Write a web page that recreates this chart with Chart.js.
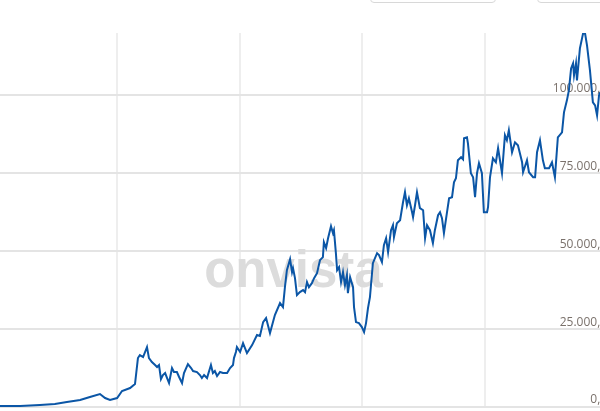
<!DOCTYPE html>
<html>
<head>
<meta charset="utf-8">
<script src="https://cdn.jsdelivr.net/npm/chart.js@4/dist/chart.umd.min.js"></script>
<style>
  body { margin: 0; background: #fff; overflow: hidden; }
  #wrap { position: relative; width: 600px; height: 411px; }
  .btn { position: absolute; top: -27px; height: 28px; border: 1px solid #d8d8d8; border-radius: 4px; background: #fff; }
</style>
</head>
<body>
<div id="wrap">
  <div class="btn" style="left:370px;width:124px"></div>
  <div class="btn" style="left:537px;width:90px"></div>
  <canvas id="kurs"></canvas>
</div>
<script>
// decimal years and closing prices
const dates = [
  2000.22, 2001.04, 2001.85, 2002.46, 2002.95, 2003.49, 2003.89, 2004.30, 2004.51, 2004.71,
  2005.00, 2005.20, 2005.53, 2005.73, 2005.85, 2005.93, 2006.06, 2006.22, 2006.30, 2006.42,
  2006.55, 2006.63, 2006.71, 2006.79, 2006.87, 2006.96, 2007.04, 2007.12, 2007.24, 2007.32,
  2007.44, 2007.53, 2007.65, 2007.73, 2007.89, 2008.02, 2008.10, 2008.26, 2008.38, 2008.46,
  2008.55, 2008.67, 2008.83, 2008.91, 2008.99, 2009.08, 2009.20, 2009.32, 2009.49, 2009.61,
  2009.73, 2009.77, 2009.85, 2009.89, 2010.02, 2010.14, 2010.30, 2010.51, 2010.71, 2010.83,
  2010.96, 2011.08, 2011.24, 2011.44, 2011.65, 2011.77, 2011.85, 2011.93, 2012.06, 2012.14,
  2012.18, 2012.26, 2012.34, 2012.46, 2012.59, 2012.67, 2012.75, 2012.83, 2012.95, 2013.04,
  2013.16, 2013.28, 2013.40, 2013.44, 2013.53, 2013.61, 2013.73, 2013.81, 2013.85, 2013.93,
  2013.98, 2014.06, 2014.14, 2014.22, 2014.30, 2014.38, 2014.42, 2014.51, 2014.63, 2014.67,
  2014.75, 2014.87, 2014.99, 2015.08, 2015.16, 2015.24, 2015.32, 2015.44, 2015.61, 2015.69,
  2015.81, 2015.89, 2015.98, 2016.06, 2016.18, 2016.26, 2016.30, 2016.42, 2016.55, 2016.67,
  2016.75, 2016.83, 2016.91, 2017.04, 2017.08, 2017.16, 2017.24, 2017.36, 2017.49, 2017.57,
  2017.65, 2017.77, 2017.89, 2017.97, 2018.10, 2018.18, 2018.26, 2018.34, 2018.46, 2018.55,
  2018.67, 2018.75, 2018.83, 2018.91, 2019.04, 2019.12, 2019.16, 2019.28, 2019.32, 2019.44,
  2019.53, 2019.61, 2019.69, 2019.77, 2019.89, 2019.97, 2020.10, 2020.14, 2020.22, 2020.34,
  2020.46, 2020.55, 2020.71, 2020.83, 2020.91, 2020.99, 2021.12, 2021.24, 2021.36, 2021.53,
  2021.57, 2021.73, 2021.81, 2021.98, 2022.06, 2022.14, 2022.26, 2022.38, 2022.46, 2022.63,
  2022.75, 2022.87, 2022.99, 2023.16, 2023.24, 2023.36, 2023.44, 2023.53, 2023.61, 2023.65,
  2023.73, 2023.77, 2023.89, 2024.02, 2024.10, 2024.18, 2024.30, 2024.42, 2024.51, 2024.59,
  2024.67, 2024.71
];
const prices = [
  320, 320, 640, 960, 1600, 2240, 3200, 4170, 2880, 2240,
  2880, 5130, 6090, 7370, 15700, 16670, 16030, 19230, 15700, 14420,
  13460, 12820, 13460, 8970, 10260, 10900, 9300, 7690, 12500, 11220,
  11220, 9620, 7690, 10900, 13780, 12500, 11540, 11220, 10260, 9300,
  10260, 9300, 13460, 10900, 11540, 9940, 11220, 10900, 10900, 12500,
  13460, 15700, 17630, 19230, 17630, 20510, 17310, 19870, 23080, 22760,
  27240, 28520, 23720, 29490, 33330, 32050, 38460, 43910, 47430, 43270,
  44550, 41340, 35900, 36860, 37500, 36860, 40060, 38460, 39740, 41340,
  42950, 47110, 48080, 52880, 50960, 54160, 58010, 55770, 56730, 49360,
  43910, 44870, 40060, 43270, 39100, 42310, 36540, 41670, 38460, 32050,
  27240, 26920, 25640, 24040, 26920, 31730, 35260, 46150, 49360, 48720,
  46470, 51920, 54160, 49680, 56730, 58330, 54490, 58970, 59930, 65700,
  68910, 64740, 66980, 62500, 60900, 64740, 68910, 63780, 63140, 54160,
  58330, 56730, 52560, 56730, 61540, 62500, 60570, 55770, 62180, 66980,
  67310, 72110, 73390, 79160, 80130, 79480, 86210, 86540, 84610, 75000,
  73720, 67310, 75000, 78200, 75000, 62500, 62500, 64100, 73720, 79800,
  78520, 83010, 75000, 87180, 85570, 88780, 81730, 84930, 83970, 78520,
  75320, 79160, 75320, 73720, 73720, 81730, 85570, 79160, 76600, 76600,
  78520, 73720, 86540, 88140, 94550, 98390, 101600, 108650, 110250, 106410,
  110250, 104800, 115060, 119870, 119870, 116020, 108010, 97750, 96790, 93590,
  100000, 100960
];
const yTicks = [0, 25000, 50000, 75000, 100000];
const xGridYears = [2005, 2010, 2015, 2020];

const points = dates.map((d, i) => ({ x: d, y: prices[i] }));

const watermark = {
  id: "watermark",
  beforeDatasetsDraw(chart) {
    const { ctx, chartArea } = chart;
    ctx.save();
    ctx.font = "bold 51px 'Liberation Sans', Arial, sans-serif";
    ctx.fillStyle = "#dcdcdc";
    ctx.textAlign = "center";
    ctx.textBaseline = "alphabetic";
    ctx.fillText("onvista", chartArea.left + chartArea.width * 0.489, chartArea.top + chartArea.height * 0.68);
    ctx.restore();
  }
};

new Chart(document.getElementById("kurs"), {
  type: "line",
  data: {
    datasets: [{
      data: points,
      borderColor: "#0b56a6",
      borderWidth: 2,
      pointRadius: 0,
      tension: 0,
      fill: false
    }]
  },
  options: {
    responsive: true,
    maintainAspectRatio: false,
    animation: false,
    layout: { padding: { top: 33, bottom: 4, left: 0, right: 0 } },
    plugins: { legend: { display: false }, tooltip: { enabled: false } },
    scales: {
      x: {
        type: "linear",
        min: 2000.22,
        max: 2024.71,
        afterBuildTicks: (s) => { s.ticks = xGridYears.map((v) => ({ value: v })); },
        afterFit: (s) => { s.height = 0; s.paddingLeft = 0; s.paddingRight = 0; },
        ticks: { display: false },
        grid: { color: "#eeeeee", lineWidth: 2, drawTicks: false },
        border: { display: false }
      },
      y: {
        position: "right",
        min: 0,
        max: 120000,
        afterBuildTicks: (s) => { s.ticks = yTicks.map((v) => ({ value: v })); },
        // labels sit inside the plot and run off the right edge
        afterFit: (s) => { s.width = 0; s.paddingTop = 0; s.paddingBottom = 0; },
        ticks: {
          mirror: true,
          padding: 14,
          labelOffset: -7,
          color: "#7a716b",
          font: { family: "'Open Sans', sans-serif", size: 12 },
          callback: (v) => v.toLocaleString("de-DE", { minimumFractionDigits: 2, maximumFractionDigits: 2 })
        },
        grid: { color: "#e4e4e4", lineWidth: 2, drawTicks: false },
        border: { display: false }
      }
    }
  },
  plugins: [watermark]
});
</script>
</body>
</html>
